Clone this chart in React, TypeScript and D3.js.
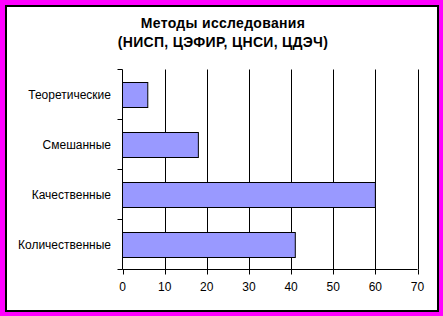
import React from "react";
import * as d3 from "d3";

const categories = ["Теоретические", "Смешанные", "Качественные", "Количественные"];
const values = [6, 18, 60, 41];
const xTicks = [0, 10, 20, 30, 40, 50, 60, 70];
const titleLines = ["Методы исследования", "(НИСП, ЦЭФИР, ЦНСИ, ЦДЭЧ)"];

export default function App() {
  const W = 443, H = 316;
  const left = 122.5, right = 417.5, top = 69.5, bottom = 269.5;
  const x = d3.scaleLinear().domain([0, 70]).range([left, right]);
  const y = d3.scaleBand<string>().domain(categories).range([top, bottom]).paddingInner(0.5).paddingOuter(0.25);
  const band = d3.scaleBand<string>().domain(categories).range([top, bottom]);
  const font = "Arial, 'Liberation Sans', sans-serif";
  return (
    <svg width={W} height={H} style={{ position: "absolute", left: 0, top: 0 }}>
      <rect x={0} y={0} width={W} height={H} fill="#FF00FF" />
      <rect x={6} y={6} width={432} height={305} fill="#FFFFFF" stroke="#000" strokeWidth={2} />
      {titleLines.map((t, i) => (
        <text key={i} x={223} y={27.5 + i * 19.5} textAnchor="middle" fontFamily={font} fontWeight="bold" fontSize={14} letterSpacing={0.3} fill="#000">
          {t}
        </text>
      ))}
      {xTicks.slice(1).map((t) => (
        <line key={t} x1={Math.round(x(t)) + 0.5} x2={Math.round(x(t)) + 0.5} y1={top} y2={bottom} stroke="#000" strokeWidth={1} />
      ))}
      {categories.map((c, i) => (
        <rect key={c} x={left} y={Math.round(y(c)!) + 0.5} width={x(values[i]) - left} height={Math.round(y.bandwidth())} fill="#9999FF" stroke="#000" strokeWidth={1} />
      ))}
      <line x1={left} x2={left} y1={top} y2={bottom} stroke="#000" />
      <line x1={left} x2={right} y1={bottom} y2={bottom} stroke="#000" />
      {categories.map((c) => (
        <line key={c} x1={left - 5} x2={left} y1={band(c)!} y2={band(c)!} stroke="#000" />
      ))}
      <line x1={left - 5} x2={left} y1={bottom} y2={bottom} stroke="#000" />
      {xTicks.map((t) => (
        <line key={t} x1={Math.round(x(t)) + 0.5} x2={Math.round(x(t)) + 0.5} y1={bottom} y2={bottom + 5} stroke="#000" />
      ))}
      {categories.map((c) => (
        <text key={c} x={111} y={band(c)! + band.bandwidth() / 2 + 4} textAnchor="end" fontFamily={font} fontSize={12} fill="#000">
          {c}
        </text>
      ))}
      {xTicks.map((t) => (
        <text key={t} x={x(t)} y={291} textAnchor="middle" fontFamily={font} fontSize={12} fill="#000">
          {t}
        </text>
      ))}
    </svg>
  );
}
